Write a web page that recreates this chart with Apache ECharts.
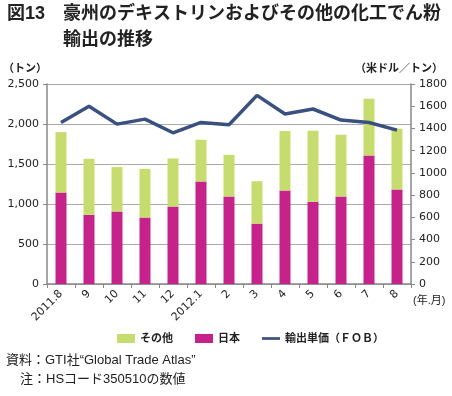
<!DOCTYPE html>
<html>
<head>
<meta charset="utf-8">
<script src="https://cdn.jsdelivr.net/npm/echarts@6/dist/echarts.min.js"></script>
<style>
  html, body { margin: 0; padding: 0; background: #fff; }
  #chart { width: 452px; height: 396px; }
</style>
</head>
<body>
<div id="chart"></div>
<script>
const months = ['2011.8', '9', '10', '11', '12', '2012.1', '2', '3', '4', '5', '6', '7', '8']
const japan = [1143, 864, 906, 831, 968, 1281, 1093, 755, 1169, 1027, 1093, 1607, 1181]
const others = [756, 701, 555, 609, 601, 522, 522, 530, 743, 889, 773, 709, 760]
const fobPrice = [1454, 1599, 1439, 1484, 1361, 1454, 1433, 1698, 1530, 1575, 1475, 1454, 1385]

const jpFont = '"Liberation Sans", "Noto Sans CJK JP", sans-serif'
const numFont = '"DejaVu Sans", sans-serif'

const myChart = echarts.init(document.getElementById('chart'))

const option = {
  animation: false,
  legend: {
    bottom: 47,
    left: 112,
    itemGap: 22,
    itemWidth: 18,
    itemHeight: 9,
    textStyle: { fontFamily: jpFont, fontSize: 11, fontWeight: 'bold', color: '#222' },
    data: [
      { name: 'その他', icon: 'rect' },
      { name: '日本', icon: 'rect' },
      { name: '輸出単価（ＦＯＢ）', icon: 'path://M0,0 L20,0 L20,3 L0,3 Z' }
    ]
  },
  grid: {
    left: 44,
    right: 41,
    top: 84,
    bottom: 112
  },
  xAxis: {
    type: 'category',
    data: months,
    axisLine: { lineStyle: { color: '#888', width: 1.5 } },
    axisTick: { show: true, length: 4, lineStyle: { color: '#888' } },
    axisLabel: {
      rotate: 45,
      interval: 0,
      fontFamily: numFont,
      fontSize: 11,
      color: '#222',
      margin: 8
    }
  },
  yAxis: [
    {
      type: 'value',
      min: 0,
      max: 2500,
      interval: 500,
      name: '（トン）',
      nameLocation: 'end',
      nameGap: 10,
      nameTextStyle: { fontFamily: jpFont, fontSize: 11, fontWeight: 'bold', color: '#222', align: 'right' },
      axisLine: { show: true, lineStyle: { color: '#888', width: 1.5 } },
      axisTick: { show: true, length: 4, lineStyle: { color: '#888' } },
      axisLabel: {
        fontFamily: numFont,
        fontSize: 11,
        color: '#222',
        formatter: v => v.toLocaleString('en-US')
      },
      splitLine: { lineStyle: { color: '#aaa', width: 1 } }
    },
    {
      type: 'value',
      min: 0,
      max: 1800,
      interval: 200,
      name: '（米ドル／トン）',
      nameLocation: 'end',
      nameGap: 10,
      nameTextStyle: { fontFamily: jpFont, fontSize: 11, fontWeight: 'bold', color: '#222', align: 'right', padding: [0, -32, 0, 0] },
      axisLine: { show: true, lineStyle: { color: '#888', width: 1.5 } },
      axisTick: { show: true, length: 4, lineStyle: { color: '#888' } },
      axisLabel: { fontFamily: numFont, fontSize: 11, color: '#222', formatter: v => String(v) },
      splitLine: { show: false }
    }
  ],
  graphic: [
    {
      type: 'text',
      left: 7,
      top: 5,
      style: { text: '図13', fontFamily: jpFont, fontSize: 18, fontWeight: 'bold', fill: '#222' }
    },
    {
      type: 'text',
      left: 63,
      top: 5,
      style: { text: '豪州のデキストリンおよびその他の化工でん粉', fontFamily: jpFont, fontSize: 18, fontWeight: 'bold', fill: '#222' }
    },
    {
      type: 'text',
      left: 63,
      top: 31,
      style: { text: '輸出の推移', fontFamily: jpFont, fontSize: 18, fontWeight: 'bold', fill: '#222' }
    },
    {
      type: 'text',
      left: 413,
      top: 295,
      style: { text: '(年.月)', fontFamily: jpFont, fontSize: 11, fill: '#222' }
    },
    {
      type: 'text',
      left: 6,
      top: 354,
      style: { text: '資料：GTI社“Global Trade Atlas”', fontFamily: jpFont, fontSize: 13, fill: '#222' }
    },
    {
      type: 'text',
      left: 20,
      top: 373,
      style: { text: '注：HSコード350510の数値', fontFamily: jpFont, fontSize: 13, fill: '#222' }
    }
  ],
  series: [
    {
      name: '日本',
      type: 'bar',
      stack: 'total',
      barWidth: 11,
      color: '#c5228b',
      data: japan
    },
    {
      name: 'その他',
      type: 'bar',
      stack: 'total',
      barWidth: 11,
      color: '#c7dc6f',
      data: others
    },
    {
      name: '輸出単価（ＦＯＢ）',
      type: 'line',
      yAxisIndex: 1,
      color: '#3a5080',
      symbol: 'none',
      lineStyle: { width: 3.5, color: '#3a5080' },
      data: fobPrice
    }
  ]
}

option && myChart.setOption(option)
</script>
</body>
</html>
